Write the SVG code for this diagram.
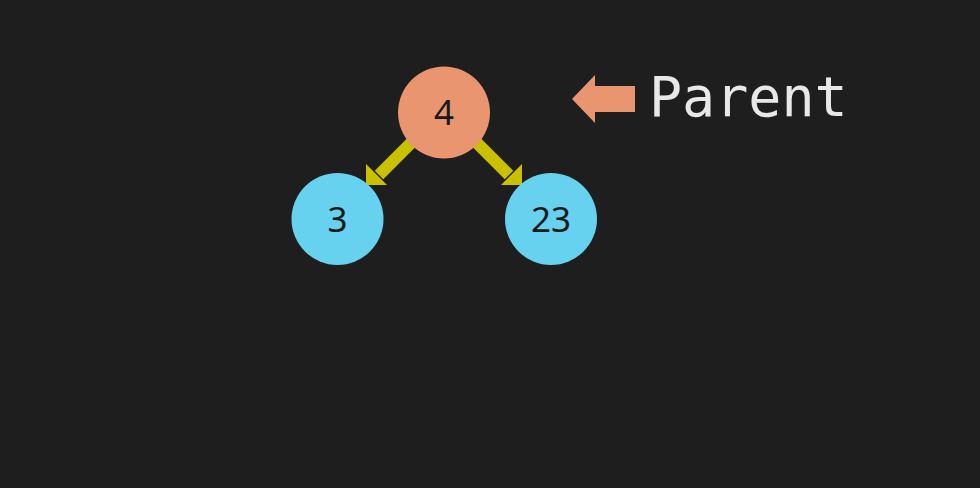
<svg xmlns="http://www.w3.org/2000/svg" width="980" height="488" viewBox="0 0 980 488">
<style>
.parent{fill:#e9956f}
.child{fill:#67d1f0}
.lbl{font-family:"Noto Sans","DejaVu Sans",sans-serif;font-size:35px;fill:#1a1a1a;text-anchor:middle}
.edge{stroke:#c9c000;stroke-width:12;fill:none}
.head{fill:#c9c000}
</style>
<rect width="980" height="488" fill="#1e1e1e"/>
<g id="connectors">
<line class="edge" x1="414" y1="140" x2="379" y2="175"/>
<polygon class="head" points="366,164 366,185 387,185"/>
<line class="edge" x1="474" y1="140" x2="509" y2="175"/>
<polygon class="head" points="522,164 522,185 501,185"/>
</g>
<g id="node-4">
<circle class="parent" cx="444" cy="112.5" r="46"/>
<text class="lbl" x="444" y="125">4</text>
</g>
<g id="node-3">
<circle class="child" cx="337.5" cy="219" r="46"/>
<text class="lbl" x="337.5" y="232">3</text>
</g>
<g id="node-23">
<circle class="child" cx="551" cy="219" r="46"/>
<text class="lbl" x="551" y="232">23</text>
</g>
<g id="parent-label">
<polygon class="parent" points="572,99 595,75 595,86 635,86 635,112 595,112 595,123"/>
<text x="649" y="116" font-family="DejaVu Sans Mono,monospace" font-size="55" fill="#e8e8e8">Parent</text>
</g>
</svg>
